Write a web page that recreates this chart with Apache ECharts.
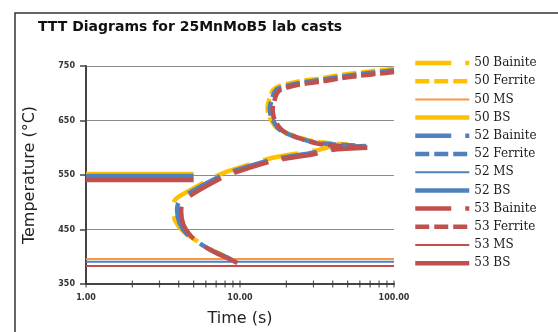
<!DOCTYPE html>
<html>
<head>
<meta charset="utf-8">
<script src="https://cdn.jsdelivr.net/npm/echarts@6/dist/echarts.min.js"></script>
<style>
  html, body { margin: 0; padding: 0; background: #fff; }
  #chart { width: 558px; height: 332px; }
</style>
</head>
<body>
<div id="chart"></div>
<script>
// Cast labels and colours
const casts = ['50', '52', '53'];
const castColors = ['#FFC000', '#4F81BD', '#C0504D'];
const msColors = ['#F79646', '#4F81BD', '#C0504D'];

// Ferrite start curves: [time (s), temperature (°C)]
const ferrite50 = [[100, 745], [80, 742], [60, 738], [44, 733], [33, 727], [24.4, 722], [18, 713], [16.4, 706], [15.6, 691], [15.1, 676], [15.2, 663], [15.7, 654], [17.4, 636], [22.5, 622], [30, 612], [40, 608], [50, 606]];
const ferrite52 = [[100, 742], [80.5, 739], [59.6, 735], [44.3, 730], [32.9, 724], [24.4, 719], [18.1, 710], [16.8, 703], [16.1, 688], [15.6, 673], [15.8, 660], [16.3, 651], [18.1, 633], [23.4, 619], [31.4, 609], [42.4, 606], [58, 604]];
const ferrite53 = [[100, 739], [80.5, 736], [59.6, 732], [44.3, 727], [32.9, 721], [24.4, 716], [18.6, 707], [17.4, 700], [16.7, 686], [16.3, 671], [16.5, 658], [17, 648], [19, 631], [24.5, 617], [33, 607], [45, 603], [67, 601]];

// Bainite start curves
const bainite50 = [[50, 606], [39, 602], [31, 595], [18, 584], [15, 579], [8.8, 559], [7.0, 548], [4.4, 517], [3.8, 505], [3.65, 492], [3.8, 466], [4.3, 446], [5.3, 428], [6.4, 414], [7.6, 404], [8.5, 396]];
const bainite52 = [[66, 603], [39, 599], [31, 592], [18, 581], [15, 576], [8.8, 556], [7.1, 545], [4.5, 514], [4.0, 500], [3.9, 487], [4.05, 462], [4.5, 442], [5.5, 424], [6.6, 411], [8.2, 399], [9.3, 391]];
const bainite53 = [[67, 600], [39, 596], [31, 589], [18, 578], [15, 573], [9.0, 553], [7.3, 542], [4.7, 511], [4.2, 496], [4.15, 482], [4.3, 458], [4.8, 438], [5.8, 420], [7.0, 407], [8.8, 394], [10.5, 383]];

// Martensite start (MS) and bainite start (BS) temperatures
const msTemps = [396, 391, 383];
const bsTemps = [552, 548, 541];
const msTimeRange = [1, 100];
const bsTimeRange = [1, 5];

// Axis ranges and tick positions
const timeRange = [1, 100];
const tempRange = [350, 750];
const tempStep = 100;
const timeTicks = [1, 2, 3, 4, 5, 6, 7, 8, 9, 10, 20, 30, 40, 50, 60, 70, 80, 90, 100];

const ferriteData = [ferrite50, ferrite52, ferrite53];
const bainiteData = [bainite50, bainite52, bainite53];

const bainiteDash = [36, 14];
const ferriteDash = [14, 5];

const series = [];
const legendNames = [];
casts.forEach((c, i) => {
  const col = castColors[i];
  series.push({
    name: c + ' Bainite', type: 'line', data: bainiteData[i], symbol: 'none', smooth: 0.3,
    lineStyle: { color: col, width: 4.5, type: bainiteDash, cap: 'butt' },
    itemStyle: { color: col }
  });
  series.push({
    name: c + ' Ferrite', type: 'line', data: ferriteData[i], symbol: 'none', smooth: 0.3,
    lineStyle: { color: col, width: 4.5, type: ferriteDash, cap: 'butt' },
    itemStyle: { color: col }
  });
  series.push({
    name: c + ' MS', type: 'line', symbol: 'none',
    data: [[msTimeRange[0], msTemps[i]], [msTimeRange[1], msTemps[i]]],
    lineStyle: { color: msColors[i], width: 2 },
    itemStyle: { color: msColors[i] }
  });
  series.push({
    name: c + ' BS', type: 'line', symbol: 'none',
    data: [[bsTimeRange[0], bsTemps[i]], [bsTimeRange[1], bsTemps[i]]],
    lineStyle: { color: col, width: 4.5 },
    itemStyle: { color: col }
  });
  legendNames.push(c + ' Bainite', c + ' Ferrite', c + ' MS', c + ' BS');
});

// Log-scale tick marks across the time axis
series.push({
  name: 'ticks', type: 'scatter', silent: true, clip: false,
  data: timeTicks.map(t => [t, tempRange[0]]),
  symbol: 'rect', symbolSize: [1.2, 7],
  itemStyle: { color: '#333' }, z: 5
});

const chart = echarts.init(document.getElementById('chart'), null, { renderer: 'canvas' });
chart.setOption({
  animation: false,
  backgroundColor: '#fff',
  title: {
    text: 'TTT Diagrams for 25MnMoB5 lab casts',
    left: 38, top: 20, padding: 0,
    textStyle: { fontFamily: 'DejaVu Sans', fontWeight: 'bold', fontSize: 14, color: '#111' }
  },
  graphic: [{
    type: 'rect', silent: true,
    shape: { x: 15, y: 13, width: 600, height: 400 },
    style: { fill: 'none', stroke: '#333', lineWidth: 1.5 }
  }],
  grid: { left: 86, right: 164, top: 66, bottom: 47 },
  legend: {
    data: legendNames,
    orient: 'vertical', left: 413, top: 57, padding: 0,
    itemWidth: 54, itemHeight: 12, itemGap: 6.2,
    selectedMode: false,
    lineStyle: { width: 'inherit' },
    itemStyle: { opacity: 0, borderWidth: 0 },
    textStyle: { fontFamily: 'DejaVu Serif', fontSize: 12, color: '#1a1a1a' }
  },
  xAxis: {
    type: 'log', logBase: 10, min: timeRange[0], max: timeRange[1],
    name: 'Time (s)', nameLocation: 'middle', nameGap: 27,
    nameTextStyle: { fontFamily: 'DejaVu Sans', fontSize: 16, color: '#222' },
    axisLine: { lineStyle: { color: '#444', width: 2 } },
    axisTick: { show: false },
    splitLine: { show: false },
    minorTick: { show: false },
    axisLabel: {
      margin: 10, formatter: v => Number(v).toFixed(2),
      fontFamily: 'DejaVu Sans', fontWeight: 'bold', fontSize: 8, color: '#333'
    }
  },
  yAxis: {
    type: 'value', min: tempRange[0], max: tempRange[1], interval: tempStep,
    name: 'Temperature (°C)', nameLocation: 'middle', nameGap: 48,
    nameTextStyle: { fontFamily: 'DejaVu Sans', fontSize: 16, color: '#222' },
    axisLine: { show: true, lineStyle: { color: '#444', width: 2 } },
    axisTick: { show: true, length: 6, lineStyle: { color: '#444', width: 1.5 } },
    splitLine: { show: true, lineStyle: { color: '#8c8c8c', width: 1.2 } },
    axisLabel: {
      margin: 11,
      fontFamily: 'DejaVu Sans', fontWeight: 'bold', fontSize: 8, color: '#333'
    }
  },
  series: series
});
</script>
</body>
</html>
